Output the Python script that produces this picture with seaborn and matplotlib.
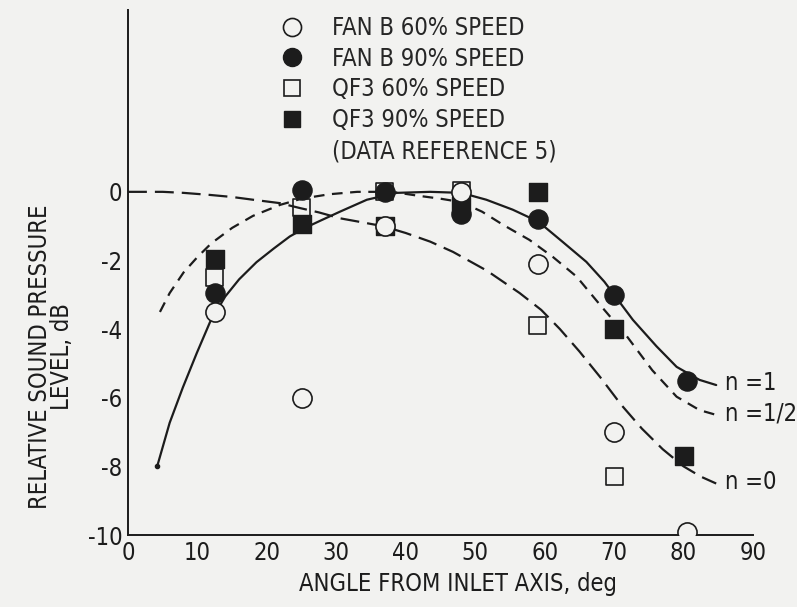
import seaborn as sns
import matplotlib.pyplot as plt
from matplotlib.lines import Line2D

# measured points: angle from inlet axis (deg) and relative SPL (dB)
fanb60_angle = [12.5, 25, 37, 48, 59, 70, 80.5]
fanb60_level = [-3.5, -6.0, -1.0, 0.0, -2.1, -7.0, -9.9]
fanb90_angle = [12.5, 25, 37, 48, 59, 70, 80.5]
fanb90_level = [-2.95, 0.05, 0.0, -0.65, -0.8, -3.0, -5.5]
qf360_angle = [12.5, 25, 37, 48, 59, 70]
qf360_level = [-2.5, -0.45, 0.0, 0.05, -3.9, -8.3]
qf390_angle = [12.5, 25, 37, 48, 59, 70, 80]
qf390_level = [-1.95, -0.95, -1.0, -0.4, 0.0, -4.0, -7.7]

# theoretical curves
n1_angle = [4.2, 6.0, 7.9, 9.9, 11.8, 14, 16, 18.5, 21, 23.3, 25.5, 27.6, 30.5,
            34.4, 38.7, 43.5, 48, 51.6, 55.4, 59.1, 62.6, 66, 68.6, 70, 72.7,
            76.1, 79, 82.3, 84.7]
n1_level = [-8.0, -6.73, -5.7, -4.7, -3.8, -3.05, -2.55, -2.05, -1.65, -1.3,
            -1.05, -0.85, -0.58, -0.23, -0.03, 0.0, -0.03, -0.23, -0.52, -0.87,
            -1.46, -2.04, -2.62, -3.0, -3.73, -4.5, -5.1, -5.48, -5.63]
nhalf_angle = [4.6, 6, 8, 10, 12, 15, 18, 21.9, 25, 29, 33, 38, 42, 45, 48, 51,
               54, 57.8, 61.2, 64.6, 68, 71.8, 75.5, 79, 82.3, 84.7]
nhalf_level = [-3.5, -2.95, -2.35, -1.9, -1.5, -1.05, -0.7, -0.38, -0.2, -0.07,
               0.0, 0.0, -0.12, -0.2, -0.3, -0.58, -0.96, -1.4, -1.9, -2.47,
               -3.3, -4.2, -5.2, -5.97, -6.36, -6.5]
n0_angle = [0, 5, 8, 11.8, 15, 18, 21.9, 24.7, 27.5, 30.5, 33.5, 36.7, 40, 43.5,
            46.8, 51.7, 56.4, 59.5, 62.2, 65, 68, 71, 74, 77, 80, 82.5, 84.7]
n0_level = [0.0, 0.0, -0.03, -0.09, -0.15, -0.23, -0.33, -0.47, -0.6, -0.77,
            -0.88, -1.0, -1.2, -1.45, -1.75, -2.3, -2.95, -3.44, -4.0, -4.65,
            -5.4, -6.2, -6.9, -7.5, -8.0, -8.3, -8.5]

curve_labels = ["n =1", "n =1/2", "n =0"]
legend_labels = ["FAN B 60% SPEED", "FAN B 90% SPEED", "QF3 60% SPEED",
                 "QF3 90% SPEED", "(DATA REFERENCE 5)"]

ink = "#1c1c1c"
paper = "#f2f2f0"

sns.set_theme(style="white")
plt.rcParams["font.family"] = ["DejaVu Sans"]
plt.rcParams["font.stretch"] = "condensed"
plt.rcParams["axes.unicode_minus"] = False

fig = plt.figure(figsize=(7.97, 6.07), dpi=100, facecolor=paper)
ax = fig.add_axes([0.1606, 0.1186, 0.7842, 0.865])
ax.set_facecolor(paper)

# curves
sns.lineplot(x=n1_angle, y=n1_level, ax=ax, color=ink, lw=1.6, sort=False,
             estimator=None)
sns.lineplot(x=nhalf_angle, y=nhalf_level, ax=ax, color=ink, lw=1.6, sort=False,
             estimator=None)
sns.lineplot(x=n0_angle, y=n0_level, ax=ax, color=ink, lw=1.6, sort=False,
             estimator=None)
ax.lines[1].set_dashes((4.8, 3.4))
ax.lines[2].set_dashes((8.5, 3.6))
ax.plot(n1_angle[0], n1_level[0], "o", color=ink, ms=3)

# data points
sns.scatterplot(x=qf390_angle, y=qf390_level, ax=ax, marker="s", s=150,
                color=ink, edgecolor=ink, linewidth=1, zorder=3)
sns.scatterplot(x=fanb90_angle, y=fanb90_level, ax=ax, marker="o", s=190,
                color=ink, edgecolor=ink, linewidth=1, zorder=3)
sns.scatterplot(x=qf360_angle, y=qf360_level, ax=ax, marker="s", s=150,
                facecolor="none", edgecolor=ink, linewidth=1.2, zorder=4)
sns.scatterplot(x=fanb60_angle, y=fanb60_level, ax=ax, marker="o", s=190,
                facecolor=paper, edgecolor=ink, linewidth=1.2, zorder=4)

# curve labels
for lab, ang, lev in zip(curve_labels, [n1_angle, nhalf_angle, n0_angle],
                         [n1_level, nhalf_level, n0_level]):
    ax.text(ang[-1] + 1.2, lev[-1] + 0.05, lab, fontsize=17, color=ink,
            ha="left", va="center")

# legend
handles = [
    Line2D([], [], ls="none", marker="o", ms=13, mfc=paper, mec=ink, mew=1.2),
    Line2D([], [], ls="none", marker="o", ms=13, mfc=ink, mec=ink),
    Line2D([], [], ls="none", marker="s", ms=12, mfc=paper, mec=ink, mew=1.2),
    Line2D([], [], ls="none", marker="s", ms=12, mfc=ink, mec=ink),
    Line2D([], [], ls="none"),
]
ax.legend(handles, legend_labels, loc="upper left",
          bbox_to_anchor=(0.352, 0.974), bbox_transform=fig.transFigure,
          frameon=False, fontsize=17, labelspacing=0.29, handlelength=1.0,
          handletextpad=1.2, borderpad=0, borderaxespad=0)

ax.set_xlim(0, 90)
ax.set_ylim(-10, 5.3)
ax.set_xticks(range(0, 91, 10))
ax.set_yticks(range(-10, 1, 2))
ax.tick_params(axis="both", direction="in", length=22, width=1.2, colors=ink,
               labelsize=17, pad=4)
sns.despine(ax=ax)
for side in ["left", "bottom"]:
    ax.spines[side].set_color(ink)
    ax.spines[side].set_linewidth(1.4)

ax.set_xlabel("ANGLE FROM INLET AXIS, deg", fontsize=17, color=ink)
ax.set_ylabel("RELATIVE SOUND PRESSURE\nLEVEL, dB", fontsize=17, color=ink,
              linespacing=0.85)
ax.xaxis.set_label_coords(0.528, -0.07)
ax.yaxis.set_label_coords(-0.087, 0.34)

plt.savefig("out.png", dpi=100, facecolor=paper)
